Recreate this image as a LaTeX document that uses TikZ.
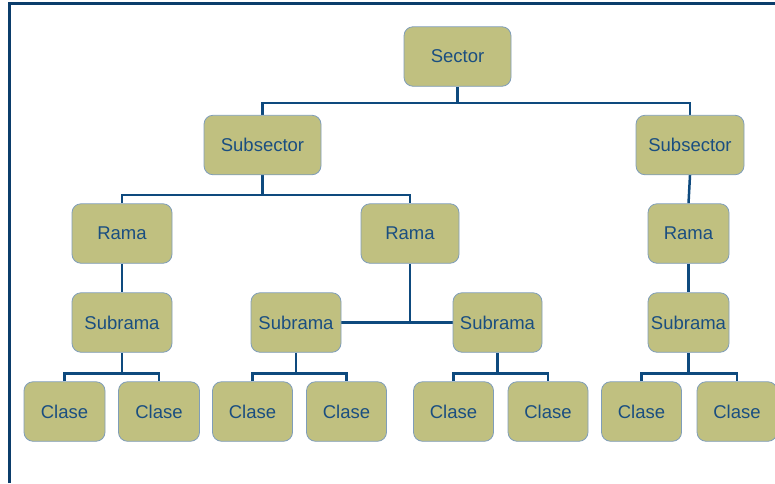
\documentclass[tikz,border=0pt]{standalone}
\usepackage{fontspec}
\setmainfont{Liberation Sans}
\usetikzlibrary{backgrounds}
\definecolor{boxfill}{HTML}{C0C080}
\definecolor{boxline}{HTML}{7F9DB9}
\definecolor{txt}{HTML}{1A4E80}
\definecolor{linkc}{HTML}{0E4A7E}
\definecolor{framec}{HTML}{0B3D6B}
\begin{document}
\begin{tikzpicture}[x=1pt,y=-1pt,
  box/.style={draw=boxline, fill=boxfill, rounded corners=9pt, line width=0.8pt,
    text=txt, font=\fontsize{18.5}{21}\selectfont, inner sep=0pt,
    minimum height=59.5pt, anchor=center},
  link/.style={draw=linkc, line width=2.5pt},
  frame/.style={draw=framec, line width=2.5pt}]
\useasboundingbox (0,0) rectangle (775,483);
\draw[frame] (9.5,483) -- (9.5,3.7) -- (775,3.7);

\node[box, minimum width=107pt] (sector) at (457.5,56.5) {Sector};
\node[box, minimum width=117pt] (subL) at (262.5,145) {Subsector};
\node[box, minimum width=108pt] (subR) at (690,145) {Subsector};
\node[box, minimum width=100pt] (rama1) at (122,233.5) {Rama};
\node[box, minimum width=98pt] (rama2) at (410,233.5) {Rama};
\node[box, minimum width=81pt] (rama3) at (688.5,233.5) {Rama};
\node[box, minimum width=100pt] (sr1) at (122,322.5) {Subrama};
\node[box, minimum width=90pt] (sr2) at (296,322.5) {Subrama};
\node[box, minimum width=89pt] (sr3) at (497.5,322.5) {Subrama};
\node[box, minimum width=81pt] (sr4) at (688.5,322.5) {Subrama};
\node[box, minimum width=81pt] (c1) at (64.5,411.5) {Clase};
\node[box, minimum width=81pt] (c2) at (159,411.5) {Clase};
\node[box, minimum width=80pt] (c3) at (252.5,411.5) {Clase};
\node[box, minimum width=80pt] (c4) at (346.5,411.5) {Clase};
\node[box, minimum width=80pt] (c5) at (453.5,411.5) {Clase};
\node[box, minimum width=80pt] (c6) at (548,411.5) {Clase};
\node[box, minimum width=80pt] (c7) at (641.5,411.5) {Clase};
\node[box, minimum width=80pt] (c8) at (737,411.5) {Clase};

\coordinate (b1) at (0,103);
\coordinate (b2) at (0,195);
\coordinate (b4) at (0,373.5);

\begin{scope}[on background layer]
\draw[link] (sector.south) -- (sector.south |- b1);
\draw[link] (subL.north) -- (subL.north |- b1) -- (subR.north |- b1) -- (subR.north);
\draw[link] (subL.south) -- (subL.south |- b2);
\draw[link] (rama1.north) -- (rama1.north |- b2) -- (rama2.north |- b2) -- (rama2.north);
\draw[link] (subR.south) -- (rama3.north);
\draw[link] (rama1.south) -- (sr1.north);
\draw[link] (rama3.south) -- (sr4.north);
\draw[link] (rama2.south) -- (rama2.south |- sr2.east);
\draw[link] (sr2.east) -- (sr3.west);
\foreach \p/\a/\b in {sr1/c1/c2, sr2/c3/c4, sr3/c5/c6, sr4/c7/c8}{
  \draw[link] (\p.south) -- (\p.south |- b4);
  \draw[link] (\a.north) -- (\a.north |- b4) -- (\b.north |- b4) -- (\b.north);
}
\end{scope}
\end{tikzpicture}
\end{document}
